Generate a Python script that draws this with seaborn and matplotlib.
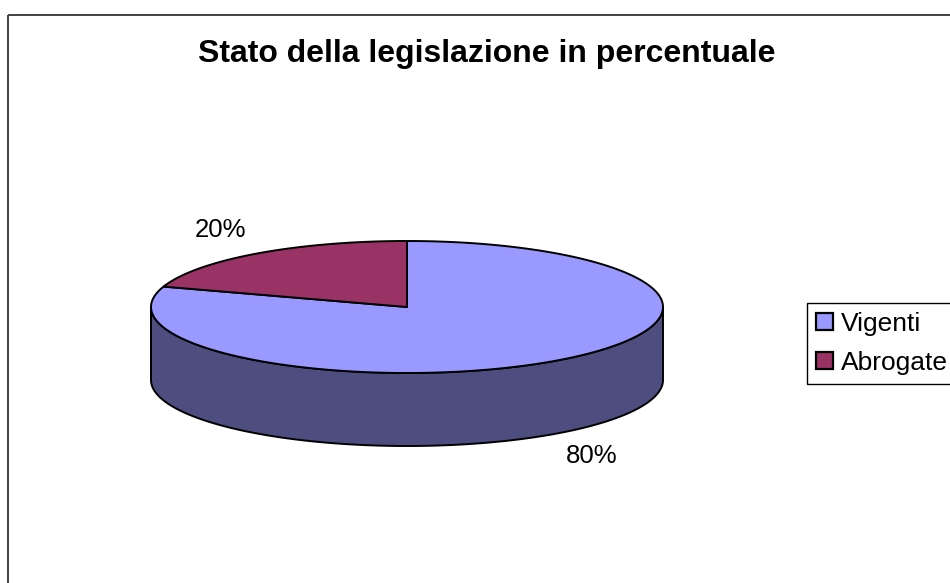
import numpy as np
import matplotlib
matplotlib.use("Agg")
import matplotlib.pyplot as plt
from matplotlib.patches import Polygon, Rectangle, Patch
import seaborn as sns

# ---- data ----
categories = ["Vigenti", "Abrogate"]
values = [80, 20]
labels_pct = ["80%", "20%"]
title = "Stato della legislazione in percentuale"

top_colors = ["#9999FF", "#993366"]
side_colors = ["#4D4D80", "#4D1A33"]

sns.set_theme(style="white")
plt.rcParams['font.family'] = ['Liberation Sans', 'DejaVu Sans']

W, H = 950, 583
fig = plt.figure(figsize=(W / 100, H / 100), dpi=100)
ax = fig.add_axes([0, 0, 1, 1])
ax.set_xlim(0, W)
ax.set_ylim(H, 0)
ax.axis("off")

# chart frame
ax.add_patch(Rectangle((8, 15), 1000, 700, fill=False, edgecolor="#333333", lw=1.3))

# pie geometry (layout)
cx, cy, rx, ry, depth = 407, 307, 256, 66, 73


def ell(t_deg, dy=0.0):
    t = np.radians(t_deg)
    return np.column_stack([cx + rx * np.cos(t), cy - ry * np.sin(t) + dy])


total = float(sum(values))
# slices go clockwise from 12 o'clock
ranges = []
start = 90.0
for v in values:
    end = start - v / total * 360.0
    ranges.append((end, start))  # ccw range [end, start]
    start = end

# side walls (visible front half: 180..360 mod 360)
for (a, b), sc in zip(ranges, side_colors):
    for k in range(-2, 3):
        lo = max(a, 180 + 360 * k)
        hi = min(b, 360 + 360 * k)
        if hi > lo:
            ts = np.linspace(lo, hi, 200)
            top = ell(ts)
            bot = ell(ts[::-1], depth)
            ax.add_patch(Polygon(np.vstack([top, bot]), closed=True,
                                 facecolor=sc, edgecolor="black", lw=1.4,
                                 joinstyle="round", zorder=2))

# top faces
for (a, b), tc in zip(ranges, top_colors):
    ts = np.linspace(a, b, 300)
    pts = np.vstack([[cx, cy], ell(ts)])
    ax.add_patch(Polygon(pts, closed=True, facecolor=tc, edgecolor="black",
                         lw=1.4, joinstyle="round", zorder=3))

# percentage labels
label_pos = [(592, 456), (221, 230)]
for lab, (x, y) in zip(labels_pct, label_pos):
    ax.text(x, y, lab, fontsize=18.5, ha="center", va="center", color="black")

# title
ax.text(487, 54, title, fontsize=23, fontweight="bold", ha="center",
        va="center", color="black")

# legend
handles = [Patch(facecolor=c, edgecolor="black", lw=1.6) for c in top_colors]
leg = ax.legend(handles, categories, loc="upper left",
                bbox_to_anchor=(807 / W, 1 - 303 / H),
                bbox_transform=fig.transFigure, borderaxespad=0,
                fontsize=19, frameon=True, fancybox=False,
                edgecolor="black", framealpha=1, labelcolor="black",
                handlelength=0.62, handleheight=0.62, handletextpad=0.3,
                borderpad=0.35, labelspacing=0.55)
leg.get_frame().set_linewidth(1.0)

fig.savefig("out.png", dpi=100)
